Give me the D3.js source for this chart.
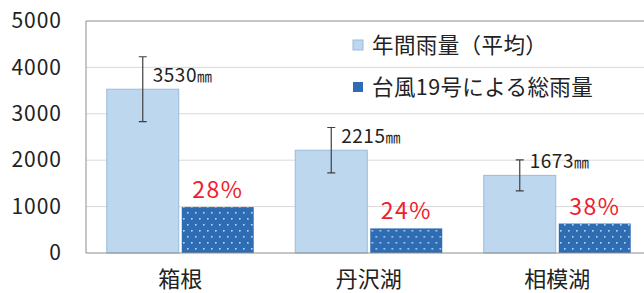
<!DOCTYPE html>
<html lang="ja">
<head>
<meta charset="UTF-8">
<title>台風19号による総雨量</title>
<style>
	body { margin: 0; background: #fff; }
	svg { display: block; font-family: "Noto Sans CJK JP", sans-serif; }
	.tick text { fill: #222; }
</style>
</head>
<body>
<svg></svg>
<script src="https://cdn.jsdelivr.net/npm/d3@7"></script>
<script>
	const width = 644, height = 293;

	// values
	const categories = ['箱根', '丹沢湖', '相模湖'];
	const annualMean = [3530, 2215, 1673];
	const annualErr = [700, 490, 335];
	const typhoonTotal = [990, 530, 635];
	const typhoonShare = ['28%', '24%', '38%'];
	const yTicks = [0, 1000, 2000, 3000, 4000, 5000];
	const legendNames = ['年間雨量（平均）', '台風19号による総雨量'];

	const plotLeft = 86, plotRight = 651.5, plotTop = 21, plotBottom = 253;

	const svg = d3.select('svg')
		.attr('width', width)
		.attr('height', height);

	svg.append('rect').attr('width', width).attr('height', height).attr('fill', '#fff');

	// dotted fill for the typhoon bars
	const pat = svg.append('defs').append('pattern')
		.attr('id', 'dots')
		.attr('patternUnits', 'userSpaceOnUse')
		.attr('width', 8).attr('height', 12);
	pat.append('rect').attr('width', 8).attr('height', 12).attr('fill', '#2e6db4');
	pat.append('rect').attr('x', 1).attr('y', 2).attr('width', 1.6).attr('height', 1.6).attr('fill', '#b8d4f0');
	pat.append('rect').attr('x', 5).attr('y', 8).attr('width', 1.6).attr('height', 1.6).attr('fill', '#b8d4f0');

	const x = d3.scaleBand().domain(categories).range([plotLeft, plotRight]);
	const xs = d3.scaleBand().domain(['mean', 'typhoon'])
		.range([0, x.bandwidth()])
		.paddingInner(0.04).paddingOuter(0.277);
	const y = d3.scaleLinear().domain([0, 5000]).range([plotBottom, plotTop]);

	// grid
	svg.append('g').selectAll('line')
		.data(yTicks.filter(d => d > 0 && d < 5000))
		.join('line')
		.attr('x1', plotLeft).attr('x2', width)
		.attr('y1', d => y(d)).attr('y2', d => y(d))
		.attr('stroke', '#d9d9d9').attr('stroke-width', 1);

	// frame
	svg.append('line').attr('x1', plotLeft).attr('x2', width).attr('y1', plotTop).attr('y2', plotTop)
		.attr('stroke', '#8c8c8c');
	svg.append('line').attr('x1', plotLeft).attr('x2', plotLeft).attr('y1', plotTop).attr('y2', plotBottom)
		.attr('stroke', '#8c8c8c');

	// y axis labels
	const yAxis = svg.append('g')
		.attr('transform', `translate(${plotLeft},0)`)
		.call(d3.axisLeft(y).tickValues(yTicks).tickFormat(d3.format('d')).tickSize(0).tickPadding(24));
	yAxis.select('.domain').remove();
	yAxis.selectAll('text')
		.attr('font-size', 21)
		.attr('letter-spacing', 1)
		.attr('font-family', '"Noto Sans CJK JP", sans-serif');

	const groups = svg.append('g').selectAll('g')
		.data(categories)
		.join('g')
		.attr('transform', d => `translate(${x(d)},0)`);

	groups.append('rect')
		.attr('x', xs('mean'))
		.attr('y', (d, i) => y(annualMean[i]))
		.attr('width', xs.bandwidth())
		.attr('height', (d, i) => y(0) - y(annualMean[i]))
		.attr('fill', '#bdd7ee')
		.attr('stroke', '#9bbbd9').attr('stroke-width', 1);

	groups.append('rect')
		.attr('x', xs('typhoon'))
		.attr('y', (d, i) => y(typhoonTotal[i]))
		.attr('width', xs.bandwidth())
		.attr('height', (d, i) => y(0) - y(typhoonTotal[i]))
		.attr('fill', 'url(#dots)');

	// error bars
	const ex = xs('mean') + xs.bandwidth() / 2;
	groups.append('path')
		.attr('d', (d, i) => {
			const hi = y(annualMean[i] + annualErr[i]), lo = y(annualMean[i] - annualErr[i]);
			return `M${ex},${hi}V${lo}M${ex - 4},${hi}H${ex + 4}M${ex - 4},${lo}H${ex + 4}`;
		})
		.attr('fill', 'none').attr('stroke', '#404040').attr('stroke-width', 1.2);

	// mean labels
	const ml = groups.append('text')
		.attr('x', ex + 10)
		.attr('y', (d, i) => y(annualMean[i]) - 7)
		.attr('font-size', 19).attr('fill', '#222');
	ml.append('tspan').attr('letter-spacing', 0.5).text((d, i) => annualMean[i]);
	ml.append('tspan').attr('font-size', 15).text('㎜');

	// share labels
	groups.append('text')
		.attr('x', xs('typhoon') + xs.bandwidth() / 2)
		.attr('y', (d, i) => y(typhoonTotal[i]) - 9)
		.attr('text-anchor', 'middle')
		.attr('font-size', 23).attr('letter-spacing', 1.5).attr('fill', '#f0202c')
		.text((d, i) => typhoonShare[i]);

	// bottom axis line
	svg.append('line').attr('x1', plotLeft).attr('x2', width).attr('y1', plotBottom).attr('y2', plotBottom)
		.attr('stroke', '#8c8c8c');

	// category labels
	groups.append('text')
		.attr('x', x.bandwidth() / 2)
		.attr('y', 287)
		.attr('text-anchor', 'middle')
		.attr('font-size', 22).attr('fill', '#222')
		.text(d => d);

	// legend
	const legend = svg.append('g').selectAll('g')
		.data(legendNames)
		.join('g')
		.attr('transform', (d, i) => `translate(353,${45 + i * 42})`);
	legend.append('rect')
		.attr('x', 0).attr('y', -5).attr('width', 10).attr('height', 10)
		.attr('fill', (d, i) => i === 0 ? '#bdd7ee' : '#2e6db4')
		.attr('stroke', (d, i) => i === 0 ? '#9bbbd9' : 'none');
	legend.append('text')
		.attr('x', 19).attr('y', 8)
		.attr('font-size', 21.5).attr('letter-spacing', 0.4).attr('fill', '#222')
		.text(d => d);
</script>
</body>
</html>
